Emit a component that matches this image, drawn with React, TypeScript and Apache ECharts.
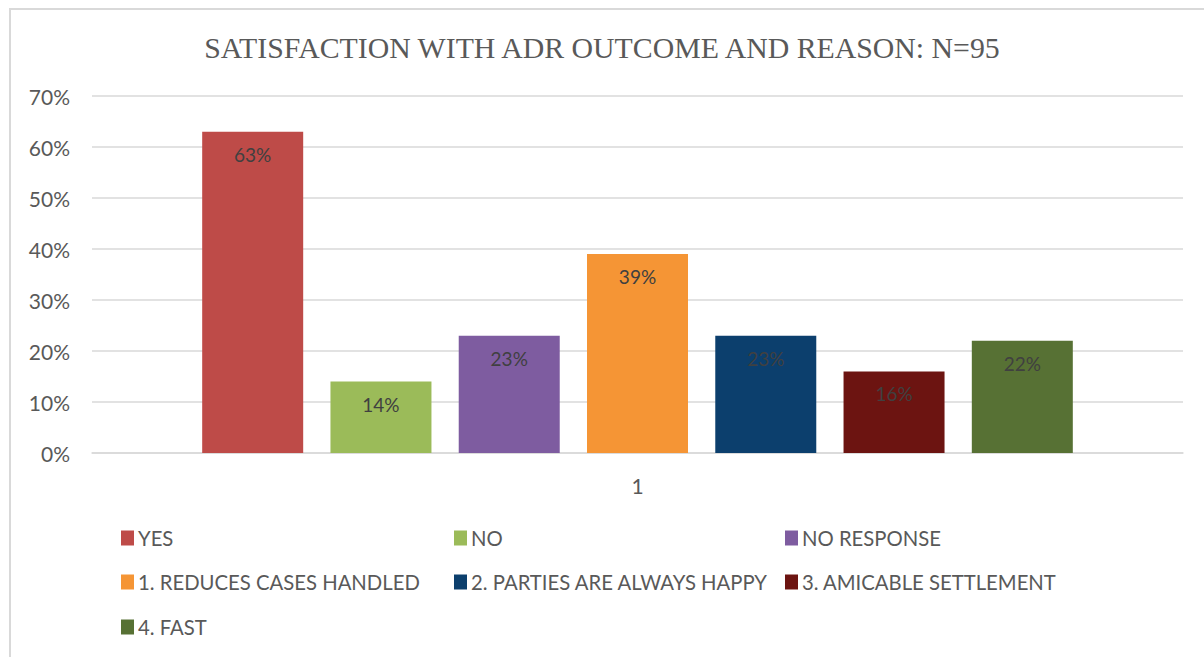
import React, { useEffect, useRef } from "react";
import * as echarts from "echarts";

const titleText = "SATISFACTION WITH ADR OUTCOME AND REASON: N=95";
const categories = ["1"];
const seriesNames = [
  "YES",
  "NO",
  "NO RESPONSE",
  "1. REDUCES CASES HANDLED",
  "2. PARTIES ARE ALWAYS HAPPY",
  "3. AMICABLE SETTLEMENT",
  "4. FAST",
];
const seriesValues = [63, 14, 23, 39, 23, 16, 22];
const seriesColors = ["#BE4B48", "#9BBB59", "#7E5CA0", "#F59535", "#0C3F6D", "#6C1411", "#577134"];
const yTicks = [0, 10, 20, 30, 40, 50, 60, 70];

// legend layout: [left, centerY] per series
const legendPos: [number, number][] = [
  [121, 538],
  [454, 538],
  [785, 538],
  [121, 582],
  [454, 582],
  [785, 582],
  [121, 627],
];

const FONT = "Lato, 'Open Sans', sans-serif";

export default function App() {
  const ref = useRef<HTMLDivElement>(null);
  useEffect(() => {
    if (!ref.current) return;
    const chart = echarts.init(ref.current, undefined, { renderer: "svg" });
    const series = seriesNames.map((name, i) => ({
      name,
      type: "bar",
      data: [seriesValues[i]],
      barWidth: 101,
      barGap: "27%",
      itemStyle: { color: seriesColors[i] },
      label: {
        show: true,
        position: "insideTop",
        distance: 13,
        formatter: "{c}%",
        color: "#404040",
        fontFamily: FONT,
        fontSize: 19,
      },
    }));
    const legends = seriesNames.map((name, i) => ({
      data: [name],
      left: legendPos[i][0],
      top: legendPos[i][1] - 11,
      orient: "horizontal",
      icon: "rect",
      itemWidth: 13,
      itemHeight: 15,
      itemGap: 0,
      padding: 0,
      selectedMode: false,
      textStyle: {
        color: "#595959",
        fontFamily: FONT,
        fontSize: 20.3,
        lineHeight: 22,
        padding: [0, 0, 0, -1],
      },
    }));
    chart.setOption({
      animation: false,
      backgroundColor: "#ffffff",
      title: {
        text: titleText,
        left: "center",
        top: 27,
        textStyle: {
          fontFamily: "'Liberation Serif', 'Times New Roman', serif",
          fontWeight: "normal",
          fontSize: 29.8,
          color: "#595959",
        },
      },
      graphic: [
        {
          type: "rect",
          shape: { x: 10, y: 9, width: 1300, height: 800 },
          style: { fill: "none", stroke: "#d9d9d9", lineWidth: 2 },
          silent: true,
        },
      ],
      legend: legends,
      grid: { left: 92, right: 21, top: 96, bottom: 204 },
      xAxis: {
        type: "category",
        data: categories,
        axisLine: { show: true, lineStyle: { color: "#d9d9d9", width: 1.5 } },
        axisTick: { show: false },
        axisLabel: { color: "#595959", fontFamily: FONT, fontSize: 21, margin: 22 },
      },
      yAxis: {
        type: "value",
        min: yTicks[0],
        max: yTicks[yTicks.length - 1],
        interval: 10,
        axisLine: { show: false },
        axisTick: { show: false },
        splitLine: { lineStyle: { color: "#d9d9d9", width: 1.5 } },
        axisLabel: {
          color: "#595959",
          fontFamily: FONT,
          fontSize: 21,
          margin: 22,
          formatter: "{value}%",
        },
      },
      series,
    });
    return () => chart.dispose();
  }, []);
  return (
    <div
      ref={ref}
      style={{ position: "fixed", left: 0, top: 0, width: 1204, height: 657, background: "#fff" }}
    />
  );
}
